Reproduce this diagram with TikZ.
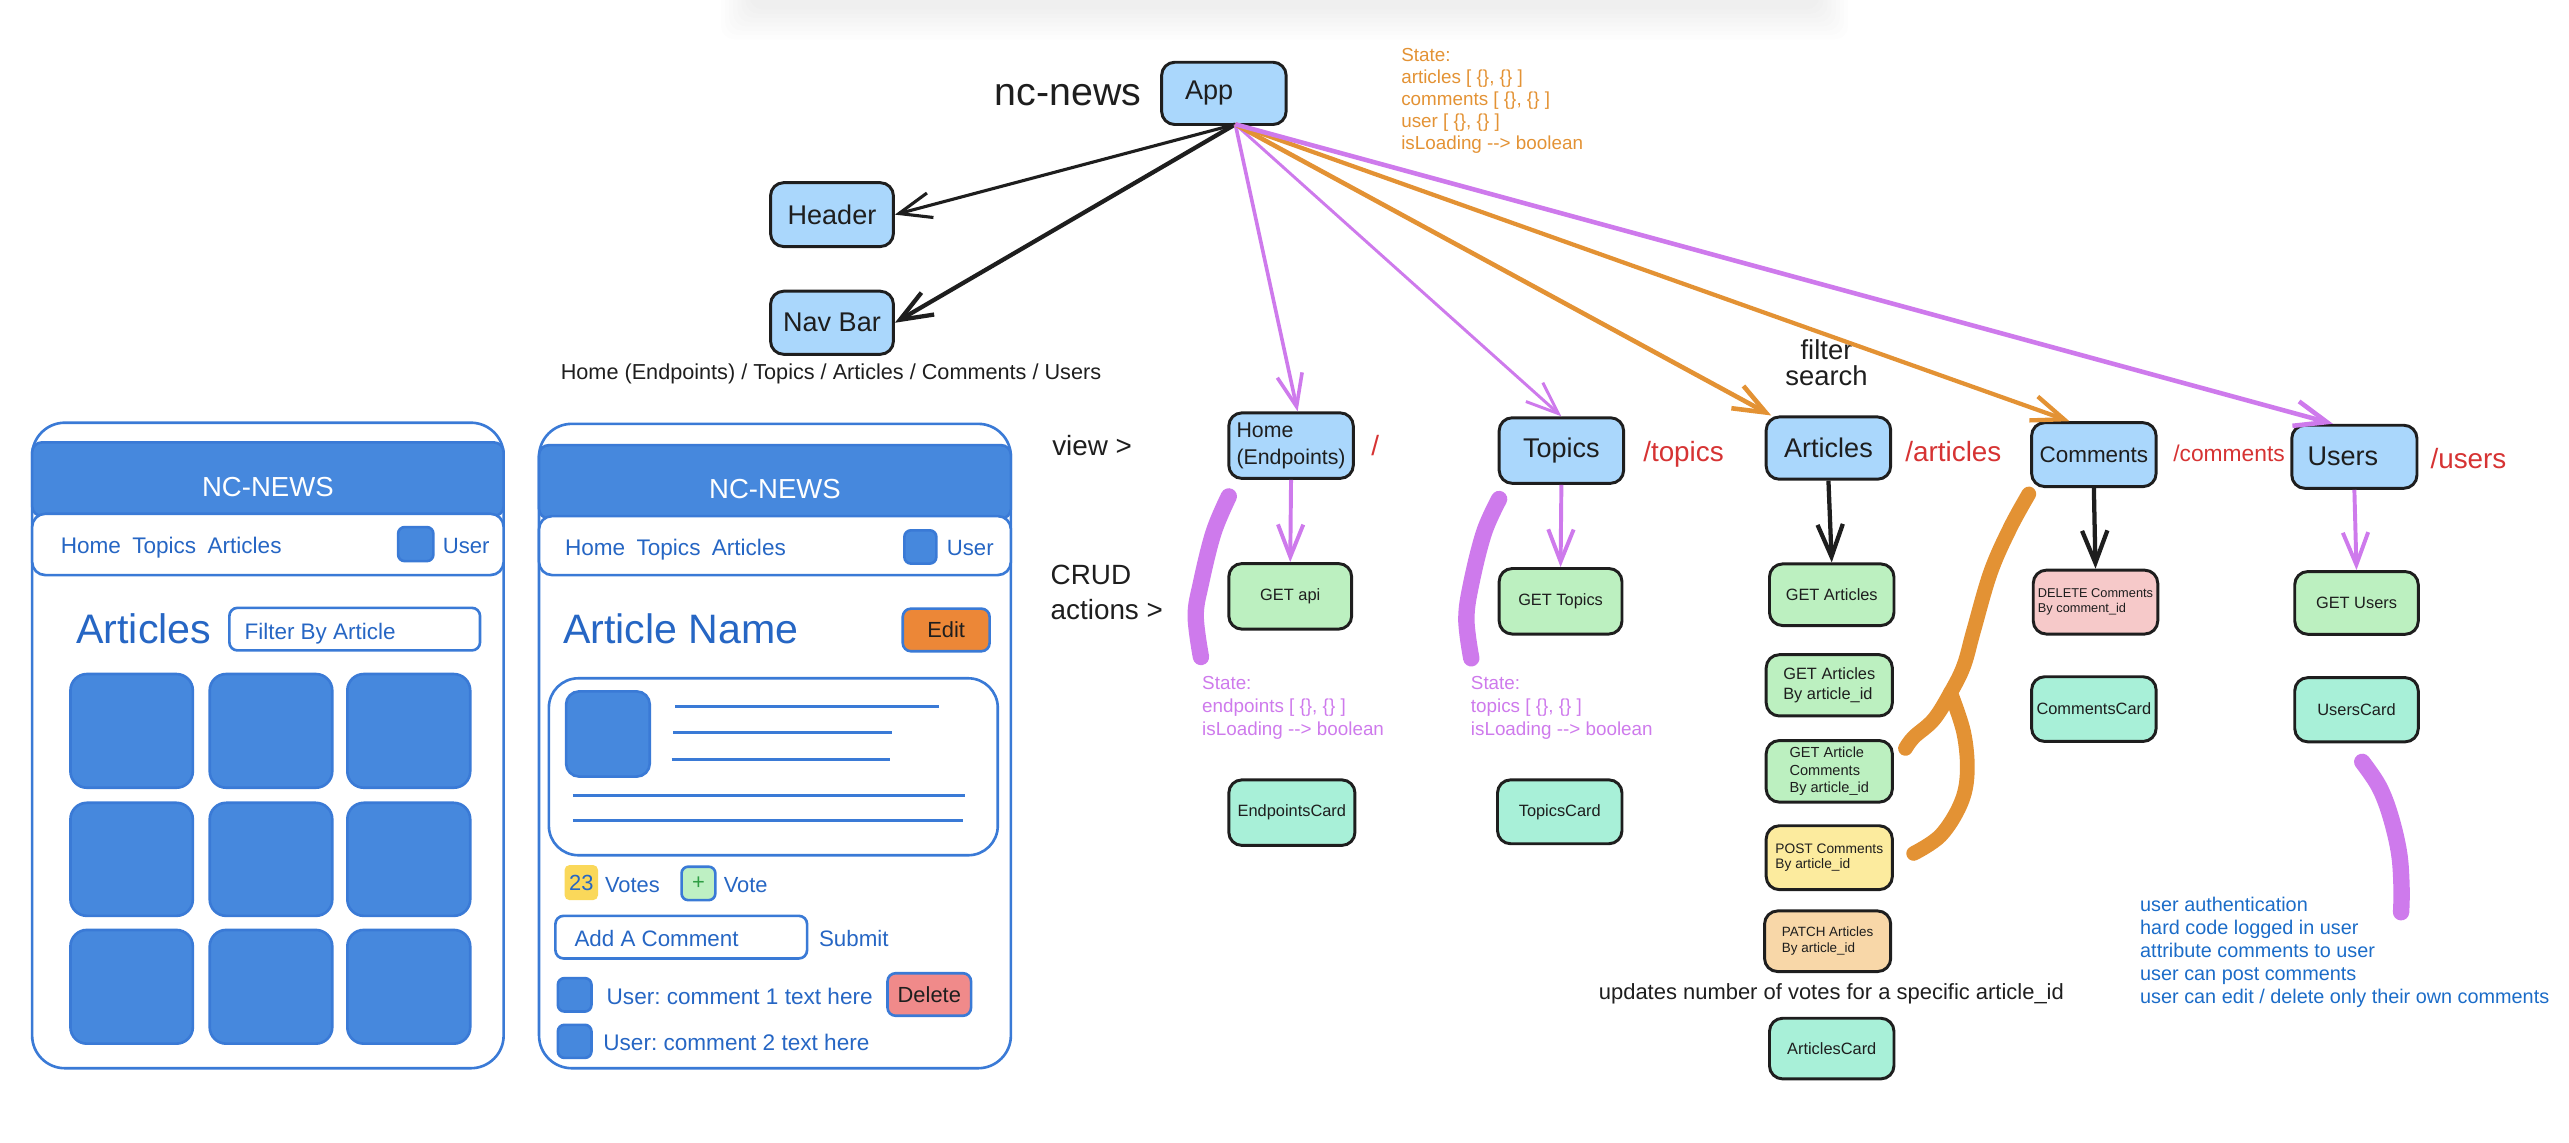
\documentclass[tikz,border=0pt]{standalone}
\usepackage{fontspec}
\setmainfont{Liberation Sans}
\usetikzlibrary{arrows.meta,calc}
\frenchspacing
\newlength{\ux}\setlength{\ux}{0.025cm}
\definecolor{ink}{RGB}{30,30,30}
\definecolor{boxblue}{RGB}{170,215,252}
\definecolor{boxgreen}{RGB}{188,240,192}
\definecolor{boxteal}{RGB}{168,240,216}
\definecolor{boxyellow}{RGB}{252,235,158}
\definecolor{boxpeach}{RGB}{248,215,168}
\definecolor{boxpink}{RGB}{246,201,201}
\definecolor{redtxt}{RGB}{214,51,51}
\definecolor{purp}{RGB}{206,122,236}
\definecolor{orng}{RGB}{227,146,52}
\definecolor{bluetxt}{RGB}{27,108,200}
\definecolor{wblue}{RGB}{70,136,221}
\definecolor{wstroke}{RGB}{58,122,214}
\definecolor{tblue}{RGB}{38,102,196}
\definecolor{editorg}{RGB}{236,135,55}
\definecolor{delred}{RGB}{240,138,138}
\definecolor{ybadge}{RGB}{250,216,90}
\definecolor{pgreen}{RGB}{47,158,68}
\definecolor{lgreen}{RGB}{190,240,195}
\begin{document}
\begin{tikzpicture}[x=0.025cm,y=-0.025cm,
  bx/.style={draw=ink, line width=1.8\ux, rounded corners=8\ux, inner sep=0pt, align=center, text=ink},
  sz/.style 2 args={minimum width=#1\ux, minimum height=#2\ux},
  vbl/.style={bx, fill=boxblue},
  vgr/.style={bx, fill=boxgreen},
  vtl/.style={bx, fill=boxteal},
  fbig/.style={font=\fontsize{11.74pt}{14pt}\selectfont},
  fsm/.style={font=\fontsize{7.11pt}{8.54pt}\selectfont},
  tip/.style={-{Straight Barb[length=14pt,width=11pt]}},
  red/.style={text=redtxt, anchor=base west, font=\fontsize{12.09pt}{14pt}\selectfont},
  brush/.style={line width=10\ux, line cap=round, line join=round},
  wire/.style={draw=wstroke, line width=1.6\ux},
  tile/.style={fill=wblue, draw=wstroke, line width=1.6\ux, rounded corners=10\ux},
  wtxt/.style={text=tblue, anchor=base west, inner sep=0pt},
  fnav/.style={font=\fontsize{9.8pt}{12pt}\selectfont},
]
\useasboundingbox (0,0) rectangle (1568,697.6);
\foreach \i in {0,...,7}
  \fill[black, opacity=0.006, rounded corners=8\ux] (440+2.5*\i,-10) rectangle (1128-2.5*\i,24-2.6*\i);

% ---------- top part ----------
\node[anchor=base west, inner sep=0pt, text=ink, font=\fontsize{17.07pt}{20pt}\selectfont] (title) at (607,64.5) {nc-news};
\node[vbl, sz={76}{38}, fbig] (App) at (747,57) {App\hspace*{18\ux}};
\node[vbl, sz={75}{39}, fbig] (Header) at (507.8,131) {Header};
\node[vbl, sz={75}{38.5}, fbig] (Nav) at (507.8,197) {Nav Bar};
\node[anchor=base west, inner sep=0pt, text=ink, font=\fontsize{9.4pt}{11pt}\selectfont] (navlist) at (342,231.5) {Home (Endpoints) / Topics / Articles / Comments / Users};
\node[anchor=north west, inner sep=0pt, align=left, text=orng, font=\fontsize{8.18pt}{9.53pt}\selectfont] (appstate) at (855,29.5) {State:\\articles [ \{\}, \{\} ]\\comments [ \{\}, \{\} ]\\user [ \{\}, \{\} ]\\isLoading -{}-{}> boolean};

\node[anchor=base west, inner sep=0pt, text=ink, font=\fontsize{12.09pt}{14pt}\selectfont] (view) at (642,277.8) {view >};
\node[anchor=north west, inner sep=0pt, align=left, text=ink, font=\fontsize{12.09pt}{14.94pt}\selectfont] (crud) at (641,344.7) {CRUD\\actions >};

% ---------- Home column ----------
\node[vbl, sz={76}{40}, align=left, font=\fontsize{9.25pt}{11.52pt}\selectfont] (Home) at (788,272) {Home\\(Endpoints)};
\node[red] (rhome) at (832,278) {/};
\node[vgr, sz={75}{40}, fsm] (GetApi) at (787.5,364) {GET api};
\node[vtl, sz={77}{40}, fsm] (EndCard) at (788.5,496) {EndpointsCard};
\node[anchor=north west, inner sep=0pt, align=left, text=purp, font=\fontsize{8.18pt}{9.96pt}\selectfont] (homestate) at (733.5,412.3) {State:\\endpoints [ \{\}, \{\} ]\\isLoading -{}-{}> boolean};

% ---------- Topics column ----------
\node[vbl, sz={76}{40}, fbig] (Topics) at (953,275) {Topics};
\node[red] (rtopics) at (998,281.6) {/topics};
\node[vgr, sz={75}{40}, fsm] (GetTopics) at (952.5,367) {GET Topics};
\node[vtl, sz={76}{39}, fsm] (TopCard) at (952,495.5) {TopicsCard};
\node[anchor=north west, inner sep=0pt, align=left, text=purp, font=\fontsize{8.18pt}{9.96pt}\selectfont] (topstate) at (897.5,412.5) {State:\\topics [ \{\}, \{\} ]\\isLoading -{}-{}> boolean};

% ---------- Articles column ----------
\node[inner sep=0pt, align=center, text=ink, anchor=base, font=\fontsize{11.9pt}{11.4pt}\selectfont] (filt) at (1114.8,235.5) {filter\\search};
\node[vbl, sz={76}{38}, fbig] (Articles) at (1116,273.5) {Articles};
\node[red] (rarticles) at (1158,281.9) {/articles};
\node[vgr, sz={76}{37.6}, fsm] (GetArt) at (1118,363) {GET Articles};
\node[vgr, sz={77}{37.4}, align=left, fsm] (GetArtId) at (1116.5,418.3) {GET Articles\\By article\_id};
\node[vgr, sz={77}{37.6}, align=left, font=\fontsize{6.33pt}{7.47pt}\selectfont] (GetArtCom) at (1116.5,470.8) {GET Article\\Comments\\By article\_id};
\node[bx, fill=boxyellow, sz={77}{39}, align=left, font=\fontsize{5.97pt}{6.76pt}\selectfont] (PostCom) at (1116.5,523.5) {POST Comments\\By article\_id\hspace*{14\ux}};
\node[bx, fill=boxpeach, sz={77}{37}, align=left, font=\fontsize{5.83pt}{6.97pt}\selectfont] (PatchArt) at (1115.5,574.5) {PATCH Articles\\By article\_id};
\node[anchor=base west, inner sep=0pt, text=ink, font=\fontsize{9.53pt}{11pt}\selectfont] (votesnote) at (975.6,610) {updates number of votes for a specific article\_id};
\node[vtl, sz={76}{37}, fsm] (ArtCard) at (1118,640) {ArticlesCard};

% ---------- Comments column ----------
\node[vbl, sz={76}{39}, font=\fontsize{9.75pt}{12pt}\selectfont] (Comments) at (1278,277.5) {Comments};
\node[red, font=\fontsize{9.9pt}{12pt}\selectfont] (rcomments) at (1321.5,281.6) {/comments};
\node[bx, fill=boxpink, sz={76}{39}, align=left, font=\fontsize{5.55pt}{6.6pt}\selectfont] (DelCom) at (1279,367.5) {DELETE Comments\\By comment\_id};
\node[vtl, sz={76}{39.5}, fsm] (ComCard) at (1278,432.8) {CommentsCard};

% ---------- Users column ----------
\node[vbl, sz={76.4}{38.5}, fbig] (Users) at (1437,278.8) {Users\hspace*{14\ux}};
\node[red] (rusers) at (1478.5,286) {/users};
\node[vgr, sz={75.4}{38.3}, fsm] (GetUsers) at (1438.3,368) {GET Users};
\node[vtl, sz={75.4}{39.2}, fsm] (UsrCard) at (1438.3,433.2) {UsersCard};
\node[anchor=north west, inner sep=0pt, align=left, text=bluetxt, font=\fontsize{8.61pt}{10.03pt}\selectfont] (usernotes) at (1306,547) {user authentication\\hard code logged in user\\attribute comments to user\\user can post comments\\user can edit / delete only their own comments};

% ---------- connectors ----------
\coordinate (hub) at ($(App.south)+(7,-1)$);
\draw[tip, ink, line width=1.9\ux] (hub) -- (Header.east);
\draw[tip, ink, line width=2.6\ux] (hub) -- (Nav.east);
\draw[tip, purp, line width=2.2\ux] (hub) -- ($(Home.north)+(4,0)$);
\draw[tip, purp, line width=1.8\ux] (hub) -- (Topics.north);
\draw[tip, orng, line width=2.8\ux] (hub) -- ($(Articles.north west)+(4,0)$);
\draw[tip, orng, line width=2.6\ux] (hub) -- ($(Comments.north west)+(24,0)$);
\draw[tip, purp, line width=2.8\ux] (hub) -- ($(Users.north west)+(26,0)$);

\draw[tip, purp, line width=2.4\ux] (Home.south) -- (GetApi.north);
\draw[tip, purp, line width=2.4\ux] (Topics.south) -- (GetTopics.north);
\draw[tip, ink, line width=2.6\ux] (Articles.south) -- (GetArt.north);
\draw[tip, ink, line width=2.6\ux] (Comments.south) -- (DelCom.north);
\draw[tip, purp, line width=2.4\ux] (Users.south) -- (GetUsers.north);

% ---------- brush strokes ----------
\draw[brush, purp] plot[smooth, tension=0.6] coordinates {(750,303) (740.7,325) (733,356) (729.8,376) (733,401)};
\draw[brush, purp] plot[smooth, tension=0.6] coordinates {(915,304.6) (905.8,325) (898,356) (895,378) (898,401.8)};
\draw[brush, purp] plot[smooth, tension=0.6] coordinates {(1441.8,465) (1452,480) (1459,498) (1464.3,520.7) (1465.8,542) (1465.5,556.8)};
\draw[brush, orng, line width=9\ux] plot[smooth, tension=0.6] coordinates {(1238.3,301.5) (1227,322) (1215,349.2) (1204.7,384.6) (1198.6,406.4) (1190.5,422.8) (1180.3,439.1) (1168,450) (1163,456.8)};
\draw[brush, orng, line width=9\ux] plot[smooth, tension=0.6] coordinates {(1190.5,422.8) (1198.6,447.3) (1200.7,471.9) (1196.6,490.8) (1184.4,510) (1168,520.9)};

% ---------- phone 1 ----------
\draw[wire, fill=white, rounded corners=20\ux] (19.6,258) rectangle (307.4,652);
\draw[wire, fill=wblue, rounded corners=6\ux] (19.6,270) rectangle (307.4,315);
\draw[wire, fill=white, rounded corners=8\ux] (19.6,313.6) rectangle (307.4,351);
\node[text=white, inner sep=0pt, anchor=base, font=\fontsize{11.95pt}{14pt}\selectfont] (p1title) at (163.5,303) {NC-NEWS};
\node[wtxt, fnav] (p1nav) at (36.8,337.6) {Home\hspace{.5em}Topics\hspace{.5em}Articles};
\draw[tile, rounded corners=4\ux] (243,321.7) rectangle (264.5,342.5);
\node[wtxt, font=\fontsize{9.6pt}{12pt}\selectfont] (p1user) at (270,337.6) {User};
\node[wtxt, font=\fontsize{17.9pt}{20pt}\selectfont] (p1head) at (46.2,392.6) {Articles};
\draw[wire, rounded corners=5\ux] (140,371) rectangle (293,397);
\node[wtxt, font=\fontsize{9.75pt}{12pt}\selectfont] (p1filter) at (149,390.6) {Filter By Article};
\foreach \cx/\cw in {43/117.7,128/202.8,212/287}
  \foreach \ry/\rb in {411.4/480.8,490/559,567.6/637}
    \draw[tile] (\cx,\ry) rectangle (\cw,\rb);

% ---------- phone 2 ----------
\draw[wire, fill=white, rounded corners=20\ux] (329,258.7) rectangle (617,652);
\draw[wire, fill=wblue, rounded corners=6\ux] (329,271.7) rectangle (617,316.5);
\draw[wire, fill=white, rounded corners=8\ux] (329,315) rectangle (617,351);
\node[text=white, inner sep=0pt, anchor=base, font=\fontsize{11.95pt}{14pt}\selectfont] (p2title) at (473,304) {NC-NEWS};
\node[wtxt, fnav] (p2nav) at (344.6,338.8) {Home\hspace{.5em}Topics\hspace{.5em}Articles};
\draw[tile, rounded corners=4\ux] (552,323.7) rectangle (571.5,344);
\node[wtxt, font=\fontsize{9.6pt}{12pt}\selectfont] (p2user) at (577.7,338.8) {User};
\node[wtxt, font=\fontsize{17.85pt}{20pt}\selectfont] (p2head) at (343.4,392.6) {Article Name};
\node[draw=wstroke, line width=1.6\ux, fill=editorg, rounded corners=5\ux, sz={53}{26}, inner sep=0pt, text=ink, font=\fontsize{9.5pt}{12pt}\selectfont] (edit) at (577.5,384.5) {Edit};
\draw[wire, rounded corners=18\ux] (335,414) rectangle (609,522);
\draw[tile, rounded corners=8\ux] (345.5,422) rectangle (396.6,474);
\draw[wstroke, line width=2\ux] (412,431.4) -- (573,431.4);
\draw[wstroke, line width=2\ux] (411,447.3) -- (544.6,447.3);
\draw[wstroke, line width=2\ux] (410,463.5) -- (543,463.5);
\draw[wstroke, line width=2\ux] (349.6,485.7) -- (588.7,485.7);
\draw[wstroke, line width=2\ux] (349.6,500.8) -- (588,500.8);
\node[fill=ybadge, rounded corners=3\ux, sz={20.4}{21.4}, inner sep=0pt, text=tblue, font=\fontsize{9.5pt}{12pt}\selectfont] (badge) at (354.8,538.7) {23};
\node[wtxt, font=\fontsize{9.5pt}{12pt}\selectfont] (votes) at (369,545) {Votes};
\node[draw=wstroke, line width=1.6\ux, fill=lgreen, rounded corners=4\ux, sz={20.6}{20.4}, inner sep=0pt, text=pgreen, font=\fontsize{9.5pt}{12pt}\selectfont] (plus) at (426.3,539.2) {+};
\node[wtxt, font=\fontsize{9.5pt}{12pt}\selectfont] (vote) at (441.5,545) {Vote};
\draw[wire, rounded corners=5\ux] (339,559) rectangle (492.6,585);
\node[wtxt, font=\fontsize{9.7pt}{12pt}\selectfont] (addc) at (350.4,577.7) {Add A Comment};
\node[wtxt, font=\fontsize{9.7pt}{12pt}\selectfont] (submit) at (499.6,577.4) {Submit};
\draw[tile, rounded corners=4\ux] (340.5,597) rectangle (361,617.4);
\node[wtxt, font=\fontsize{9.8pt}{12pt}\selectfont] (c1) at (370,613) {User: comment 1 text here};
\node[draw=wstroke, line width=1.6\ux, fill=delred, rounded corners=5\ux, sz={51}{26}, inner sep=0pt, text=ink, font=\fontsize{9.5pt}{12pt}\selectfont] (del) at (567.2,607) {Delete};
\draw[tile, rounded corners=4\ux] (340.5,625.5) rectangle (361,645.7);
\node[wtxt, font=\fontsize{9.8pt}{12pt}\selectfont] (c2) at (368,641) {User: comment 2 text here};
\end{tikzpicture}
\end{document}
